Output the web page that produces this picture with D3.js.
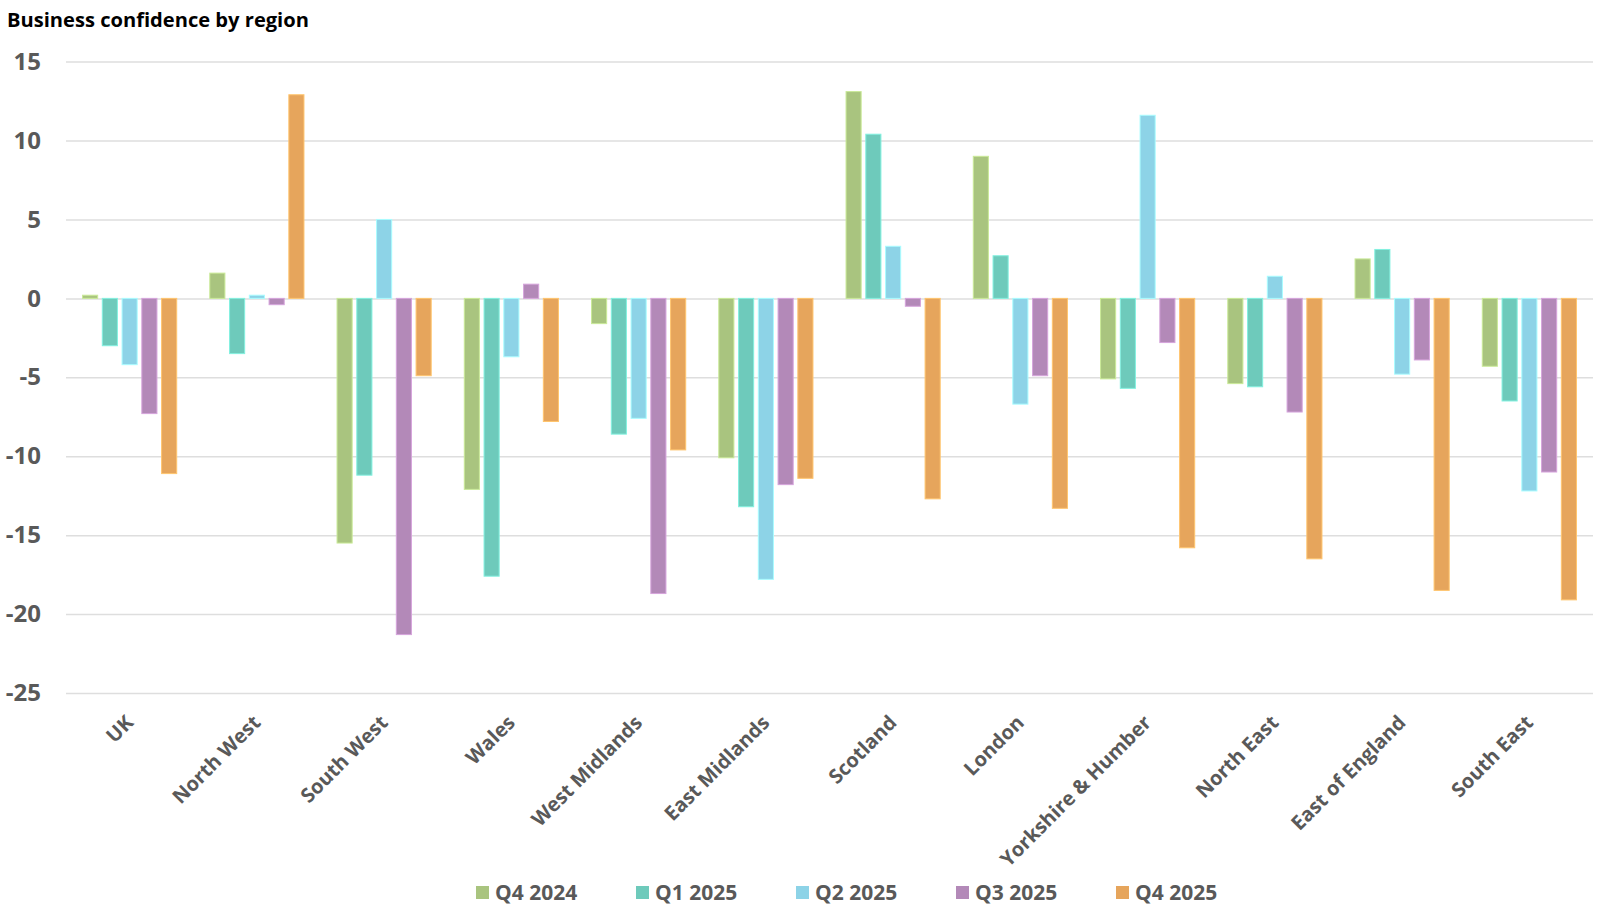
<!DOCTYPE html>
<html>
<head>
<meta charset="utf-8">
<script src="https://cdn.jsdelivr.net/npm/d3@7"></script>
<style>
  body { margin: 0; background: #fff; }
  svg { display: block; font-family: "Open Sans", "Noto Sans", sans-serif; }
</style>
</head>
<body>
<div id="viz"></div>
<script>
var regions = ["UK", "North West", "South West", "Wales", "West Midlands", "East Midlands",
               "Scotland", "London", "Yorkshire & Humber", "North East", "East of England", "South East"];
var seriesNames = ["Q4 2024", "Q1 2025", "Q2 2025", "Q3 2025", "Q4 2025"];
var seriesColors = ["#a9c47f", "#6ecabb", "#8dd3e7", "#b389b8", "#e6a55c"];

var q4_2024 = [0.2, 1.6, -15.5, -12.1, -1.6, -10.1, 13.1, 9.0, -5.1, -5.4, 2.5, -4.3];
var q1_2025 = [-3.0, -3.5, -11.2, -17.6, -8.6, -13.2, 10.4, 2.7, -5.7, -5.6, 3.1, -6.5];
var q2_2025 = [-4.2, 0.2, 5.0, -3.7, -7.6, -17.8, 3.3, -6.7, 11.6, 1.4, -4.8, -12.2];
var q3_2025 = [-7.3, -0.4, -21.3, 0.9, -18.7, -11.8, -0.5, -4.9, -2.8, -7.2, -3.9, -11.0];
var q4_2025 = [-11.1, 12.9, -4.9, -7.8, -9.6, -11.4, -12.7, -13.3, -15.8, -16.5, -18.5, -19.1];

var yTicks = [15, 10, 5, 0, -5, -10, -15, -20, -25];

var allSeries = [q4_2024, q1_2025, q2_2025, q3_2025, q4_2025];

var width = 1600, height = 911;
var plotLeft = 66, plotRight = 1593, plotTop = 61.6, plotBottom = 693;

var svg = d3.select("#viz")
    .append("svg")
    .attr("width", width)
    .attr("height", height);

// title
var title = svg.append("text")
    .attr("x", 7)
    .attr("y", 27)
    .style("font-weight", "bold")
    .style("font-size", "20px")
    .style("fill", "#000")
    .text("Business confidence by region");
var tl = title.node().getComputedTextLength();
title.style("font-size", (20 * 302 / tl) + "px");

var x0 = d3.scaleBand()
    .domain(regions)
    .range([plotLeft, plotRight])
    .paddingInner(0.26)
    .paddingOuter(0.13);

var x1 = d3.scaleBand()
    .domain(seriesNames)
    .range([0, x0.bandwidth()])
    .paddingInner(0.235);

var y = d3.scaleLinear()
    .domain([-25, 15])
    .range([plotBottom, plotTop]);

// gridlines + y labels (plain hyphen for negatives, like the source)
var yAxis = svg.append("g")
    .attr("transform", "translate(" + plotLeft + ",0)")
    .call(d3.axisLeft(y)
        .tickValues(yTicks)
        .tickFormat(function(d){return String(d);})
        .tickSize(-(plotRight - plotLeft))
        .tickPadding(25));
yAxis.select(".domain").remove();
yAxis.selectAll(".tick line")
    .style("stroke", "#dedede")
    .style("stroke-width", 1.5);
yAxis.selectAll(".tick text")
    .style("font-size", "24px")
    .style("font-weight", "bold")
    .style("fill", "#595959")
    .style("font-family", "\"Open Sans\", sans-serif");

// bars
var groups = svg.selectAll("g.region")
    .data(regions)
    .enter().append("g")
    .attr("class", "region")
    .attr("transform", function(d){return "translate(" + x0(d) + ",0)";});

groups.selectAll("rect")
    .data(function(d, i){
        return allSeries.map(function(s, j){return {name: seriesNames[j], value: s[i], color: seriesColors[j]};});
    })
    .enter().append("rect")
    .attr("x", function(d){return x1(d.name);})
    .attr("width", x1.bandwidth())
    .attr("y", function(d){return y(Math.max(0, d.value));})
    .attr("height", function(d){return Math.abs(y(d.value) - y(0));})
    .style("fill", function(d){return d.color;})
    .style("stroke", function(d){return d3.color(d.color).brighter(0.5);})
    .style("stroke-width", 1);

// x labels
svg.append("g")
    .selectAll("text")
    .data(regions)
    .enter().append("text")
    .attr("transform", function(d){
        return "translate(" + (x0(d) + x0.bandwidth() / 2 - 5) + ",714) rotate(-45)";
    })
    .attr("text-anchor", "end")
    .attr("dy", "0.7em")
    .style("font-size", "20px")
    .style("font-weight", "bold")
    .style("fill", "#595959")
    .text(function(d){return d;});

// legend
var legend = svg.append("g");
var itemStep = 160;
var items = legend.selectAll("g")
    .data(seriesNames)
    .enter().append("g")
    .attr("transform", function(d, i){return "translate(" + (476 + i * itemStep) + ",0)";});
items.append("rect")
    .attr("x", 0)
    .attr("y", 886)
    .attr("width", 13)
    .attr("height", 13)
    .style("fill", function(d, i){return seriesColors[i];});
items.append("text")
    .attr("x", 19)
    .attr("y", 900)
    .style("font-size", "21px")
    .style("font-weight", "bold")
    .style("fill", "#595959")
    .text(function(d){return d;});
</script>
</body>
</html>
